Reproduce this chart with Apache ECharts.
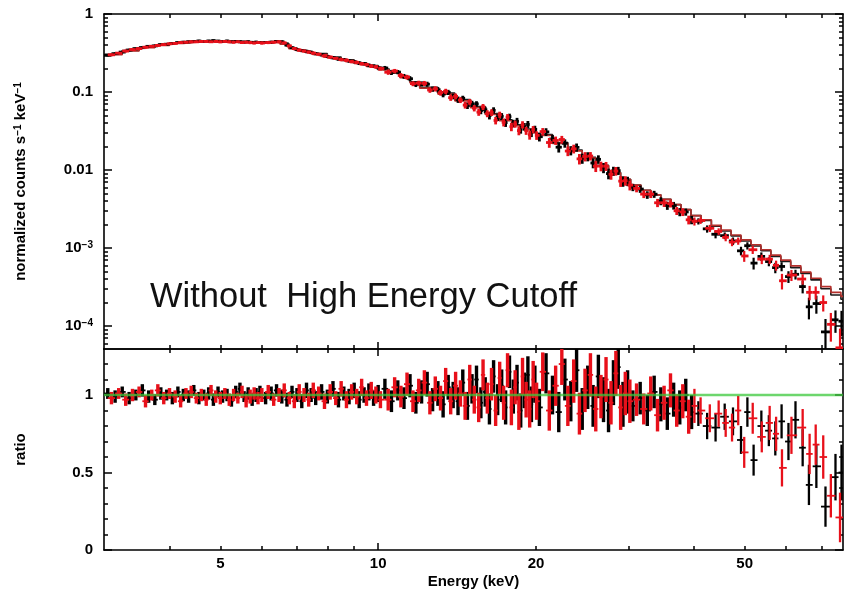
<!DOCTYPE html>
<html>
<head>
<meta charset="utf-8">
<script src="https://cdn.jsdelivr.net/npm/echarts@6/dist/echarts.min.js"></script>
<style>html,body{margin:0;padding:0;background:#fff}#c{width:844px;height:595px}</style>
</head>
<body>
<div id="c"></div>
<script>
// ---------------- DATA ----------------
// Black detector: bin centres (keV), unfolded counts, ratio, ratio error
const energyB = [
3.05,3.15,3.25,3.35,3.45,3.55,3.65,3.75,3.85,3.95,
4.05,4.15,4.25,4.35,4.45,4.55,4.65,4.75,4.85,4.95,
5.05,5.15,5.25,5.35,5.45,5.55,5.65,5.75,5.85,5.95,
6.10,6.25,6.40,6.55,6.70,6.85,7.00,7.15,7.30,7.45,7.60,7.80,8.00,8.20,8.40,8.60,8.80,9.00,9.20,9.40,9.60,9.80,10.00,
10.3,10.6,10.9,11.2,11.5,11.8,12.1,12.4,12.7,13.0,13.3,13.6,13.9,14.2,14.5,14.8,15.1,15.4,15.7,16.0,16.3,16.6,16.9,17.2,17.5,17.8,18.1,18.4,18.7,19.0,19.3,19.6,19.9,
20.3,20.9,21.5,22.1,22.7,23.3,23.9,24.5,25.1,25.7,26.3,26.9,27.5,28.1,28.7,29.3,29.9,
30.6,31.6,32.6,33.6,34.6,35.6,36.6,37.6,38.6,39.6,
40.8,42.4,44.0,45.8,47.5,49.2,50.6,52.0,53.8,55.6,57.2,58.8,60.6,62.5,64.5,66.3,68.5,71.3,74.5,76.5
];
const fluxB = [
0.295,0.31,0.325,0.345,0.36,0.37,0.385,0.39,0.405,0.41,
0.42,0.43,0.435,0.44,0.445,0.45,0.445,0.45,0.455,0.45,
0.445,0.45,0.44,0.445,0.44,0.435,0.44,0.43,0.435,0.43,
0.43,0.435,0.445,0.44,0.40,0.37,0.35,0.34,0.33,0.32,0.31,0.30,0.285,0.275,0.265,0.26,0.25,0.245,0.235,0.23,0.22,0.215,0.205,
0.203,0.178,0.180,0.159,0.148,0.125,0.1275,0.126,0.109,0.107,0.094,0.099,0.088,0.080,0.083,0.067,0.0707,0.0704,0.058,0.0592,0.050,0.0582,0.0475,0.0488,0.0405,0.0483,0.0396,0.0421,0.0333,0.036,0.0384,0.0301,0.0332,
0.0267,0.0308,0.025,0.0196,0.022,0.0178,0.0195,0.0141,0.0149,0.0123,0.0137,0.0107,0.009,0.0097,0.0098,0.0072,0.0072,
0.0060,0.0057,0.0048,0.0049,0.0040,0.0035,0.0035,0.0029,0.0029,0.0023,
0.0022,0.00176,0.0015,0.00144,0.00123,0.00092,0.00107,0.00064,0.00078,0.00067,0.00056,0.00058,0.00043,0.00046,0.00032,0.000176,0.000194,0.000084,0.00012,0.000115
];
const ratioB = [
1.01,0.99,1.02,0.98,1.00,1.03,0.99,0.97,1.01,1.00,
0.98,1.02,1.00,0.99,1.03,0.98,1.00,1.01,0.97,1.02,
0.99,1.00,0.96,1.02,1.04,0.99,1.01,0.97,1.00,1.02,
0.98,1.01,1.03,0.99,0.97,1.02,1.00,0.96,1.03,1.00,0.98,1.02,0.99,1.04,0.97,1.01,0.99,1.03,0.97,1.00,1.02,0.98,1.01,
1.04,0.96,1.03,0.98,1.06,0.95,1.02,1.07,0.97,1.01,0.94,1.05,1.00,0.96,1.08,0.93,1.04,1.10,0.95,1.02,0.91,1.12,0.97,1.06,0.92,1.15,0.99,1.08,0.90,1.03,1.13,0.94,1.07,
0.92,1.14,1.00,0.89,1.10,0.96,1.16,0.91,1.05,0.93,1.12,0.97,0.90,1.08,1.18,0.94,1.02,
0.93,0.98,0.90,1.02,0.94,0.88,0.97,0.92,1.00,0.89,
0.88,0.80,0.79,0.86,0.83,0.71,0.89,0.58,0.80,0.77,0.72,0.83,0.70,0.84,0.66,0.42,0.54,0.28,0.47,0.50
];
const ratioErrB = [
0.035,0.04,0.035,0.04,0.035,0.04,0.04,0.035,0.04,0.035,
0.04,0.035,0.04,0.04,0.035,0.04,0.035,0.04,0.04,0.035,
0.04,0.04,0.035,0.04,0.04,0.035,0.04,0.04,0.045,0.04,
0.04,0.045,0.04,0.045,0.045,0.04,0.045,0.045,0.05,0.045,0.045,0.05,0.045,0.05,0.05,0.045,0.05,0.05,0.055,0.05,0.055,0.05,0.055,
0.065,0.07,0.065,0.07,0.075,0.07,0.075,0.08,0.075,0.08,0.085,0.08,0.085,0.09,0.085,0.09,0.095,0.09,0.1,0.095,0.1,0.105,0.1,0.105,0.11,0.105,0.11,0.115,0.11,0.115,0.12,0.115,0.12,
0.12,0.13,0.125,0.13,0.135,0.13,0.14,0.135,0.14,0.135,0.14,0.145,0.14,0.145,0.14,0.145,0.14,
0.1,0.105,0.1,0.105,0.11,0.105,0.11,0.11,0.105,0.11,
0.08,0.085,0.09,0.085,0.09,0.09,0.095,0.1,0.1,0.1,0.11,0.11,0.12,0.12,0.12,0.13,0.14,0.13,0.15,0.18
];

// Red detector
const energyR = [
3.10,3.20,3.30,3.40,3.50,3.60,3.70,3.80,3.90,4.00,
4.10,4.20,4.30,4.40,4.50,4.60,4.70,4.80,4.90,5.00,
5.10,5.20,5.30,5.40,5.50,5.60,5.70,5.80,5.90,6.00,
6.17,6.32,6.47,6.62,6.77,6.92,7.07,7.22,7.37,7.52,7.70,7.90,8.10,8.30,8.50,8.70,8.90,9.10,9.30,9.50,9.70,9.90,10.10,
10.45,10.75,11.05,11.35,11.65,11.95,12.25,12.55,12.85,13.15,13.45,13.75,14.05,14.35,14.65,14.95,15.25,15.55,15.85,16.15,16.45,16.75,17.05,17.35,17.65,17.95,18.25,18.55,18.85,19.15,19.45,19.75,20.05,
20.6,21.2,21.8,22.4,23.0,23.6,24.2,24.8,25.4,26.0,26.6,27.2,27.8,28.4,29.0,29.6,30.2,
31.1,32.1,33.1,34.1,35.1,36.1,37.1,38.1,39.1,40.1,
41.2,42.9,44.6,46.0,47.3,48.6,49.9,51.8,53.9,55.8,57.4,58.9,61.4,64.5,66.5,68.3,70.6,73.0,76.0
];
const fluxR = [
0.30,0.315,0.335,0.35,0.36,0.375,0.385,0.395,0.405,0.415,
0.42,0.43,0.435,0.44,0.44,0.445,0.445,0.44,0.445,0.44,
0.445,0.44,0.435,0.44,0.43,0.435,0.43,0.425,0.43,0.425,
0.43,0.435,0.44,0.425,0.39,0.36,0.345,0.335,0.325,0.315,0.305,0.29,0.28,0.27,0.26,0.255,0.245,0.24,0.23,0.225,0.215,0.21,0.20,
0.179,0.186,0.163,0.155,0.128,0.130,0.129,0.106,0.110,0.098,0.102,0.0845,0.088,0.0788,0.0679,0.0748,0.0621,0.0552,0.0644,0.0529,0.0546,0.0432,0.0511,0.0409,0.0476,0.0359,0.0389,0.0320,0.0381,0.0320,0.0282,0.0330,0.0278,
0.0311,0.0225,0.0239,0.0246,0.0175,0.0187,0.0139,0.0149,0.0151,0.0112,0.0112,0.0112,0.0088,0.0097,0.0072,0.0073,0.0064,
0.0058,0.0049,0.0049,0.0038,0.0038,0.0037,0.0030,0.0029,0.0023,0.0022,
0.00225,0.00179,0.00163,0.00137,0.00119,0.00123,0.00079,0.00095,0.00072,0.00072,0.0006,0.00038,0.00045,0.0004,0.00027,0.00027,0.0002,0.000105,0.0000525
];
const ratioR = [
0.98,1.01,0.97,1.00,1.02,0.96,1.00,1.03,0.98,1.01,
0.99,0.96,1.01,1.02,0.98,1.00,0.97,1.03,0.99,0.98,
1.01,0.97,1.00,0.98,1.02,0.96,0.99,1.01,0.98,1.00,
1.02,0.97,1.00,1.03,0.98,0.96,1.02,1.00,0.97,1.03,1.01,0.96,1.02,0.98,1.04,0.97,1.02,0.99,1.05,0.98,1.03,1.00,0.97,
0.97,1.05,0.99,1.07,0.96,1.03,1.08,0.95,1.04,0.98,1.09,0.96,1.06,1.01,0.93,1.10,0.97,0.92,1.13,0.98,1.07,0.90,1.11,0.95,1.16,0.92,1.05,0.89,1.12,0.97,0.91,1.10,0.96,
1.15,0.90,1.06,1.20,0.93,1.09,0.88,1.03,1.13,0.91,0.99,1.10,0.95,1.14,0.92,1.01,0.96,
0.97,0.91,1.01,0.87,0.95,1.03,0.90,0.96,0.86,0.93,
0.90,0.85,0.88,0.82,0.79,0.90,0.63,0.85,0.73,0.82,0.75,0.53,0.74,0.79,0.62,0.68,0.60,0.35,0.21
];
const ratioErrR = [
0.04,0.035,0.04,0.04,0.035,0.04,0.035,0.04,0.04,0.035,
0.04,0.04,0.035,0.04,0.035,0.04,0.04,0.035,0.04,0.04,
0.035,0.04,0.04,0.035,0.04,0.04,0.045,0.04,0.04,0.045,
0.045,0.04,0.045,0.045,0.04,0.045,0.05,0.045,0.045,0.05,0.045,0.05,0.05,0.045,0.05,0.055,0.05,0.05,0.055,0.05,0.055,0.055,0.055,
0.07,0.065,0.07,0.075,0.07,0.075,0.08,0.075,0.08,0.08,0.085,0.085,0.09,0.085,0.09,0.095,0.09,0.095,0.1,0.1,0.105,0.1,0.105,0.11,0.11,0.115,0.11,0.115,0.12,0.115,0.12,0.12,0.12,
0.125,0.13,0.13,0.135,0.13,0.14,0.135,0.14,0.14,0.145,0.14,0.145,0.14,0.145,0.145,0.14,0.14,
0.105,0.1,0.11,0.105,0.11,0.11,0.105,0.11,0.11,0.11,
0.085,0.09,0.085,0.09,0.09,0.095,0.1,0.1,0.1,0.11,0.11,0.12,0.12,0.12,0.13,0.13,0.14,0.14,0.16
];

// Model (folded) histograms: bin edges (keV) and values per bin
const modelEdges = [3,3.25,3.5,3.75,4,4.25,4.5,4.75,5,5.5,6,6.25,6.5,6.75,7,7.25,7.5,8,8.5,9,9.5,10,10.5,11,11.5,12,13,14,15,16,17,18,19,20,21.5,23,24.5,26,27.5,29,30.3,31.7,33.1,34.6,36.2,37.8,39.5,41.3,43.2,45.1,47.1,49.2,51.4,53.7,56.1,58.6,61.2,64.0,66.9,69.9,73.0,76.3,77];
const modelB = [
0.305,0.34,0.375,0.40,0.425,0.44,0.448,0.45,0.447,0.437,
0.432,0.44,0.42,0.37,0.345,0.33,0.31,0.28,0.258,0.237,
0.218,0.197,0.18,0.158,0.135,0.115,0.097,0.080,0.065,0.053,
0.044,0.038,0.0335,0.0285,0.0225,0.018,0.0145,0.0115,0.0093,0.0076,
0.0064,0.0055,0.0048,0.0042,0.0036,0.0031,0.0026,0.00225,0.0019,0.00165,
0.00143,0.00123,0.00106,0.00092,0.00078,0.00067,0.00056,0.00047,0.00039,0.0003,
0.00025,0.00022];
const modelR = [
0.30,0.335,0.37,0.395,0.42,0.435,0.443,0.444,0.442,0.432,
0.428,0.436,0.41,0.36,0.338,0.322,0.303,0.275,0.253,0.232,
0.213,0.192,0.175,0.153,0.131,0.112,0.094,0.077,0.063,0.0515,
0.0428,0.037,0.0325,0.0277,0.0219,0.0176,0.0142,0.0113,0.0092,0.0076,
0.0064,0.0055,0.0048,0.0042,0.0036,0.0031,0.0026,0.0023,0.00195,0.0017,
0.00147,0.00127,0.0011,0.00095,0.00081,0.0007,0.00059,0.00049,0.00041,0.00032,
0.00027,0.00024];
const unityRatio = [[3, 1], [77, 1]];

// Axis ticks / labels
const xMinorTicks = [4,5,6,7,8,9,20,30,40,50,60,70];
const xMajorTicks = [10];
const xLabelValues = [5,10,20,50];
const yTopMajor = [1e-4,1e-3,1e-2,1e-1,1];
const yTopMinor = [6e-5,7e-5,8e-5,9e-5,2e-4,3e-4,4e-4,5e-4,6e-4,7e-4,8e-4,9e-4,2e-3,3e-3,4e-3,5e-3,6e-3,7e-3,8e-3,9e-3,0.02,0.03,0.04,0.05,0.06,0.07,0.08,0.09,0.2,0.3,0.4,0.5,0.6,0.7,0.8,0.9];
const ratioMajor = [0,0.5,1];
const ratioMinor = [0.1,0.2,0.3,0.4,0.6,0.7,0.8,0.9,1.1,1.2];

// Axis ranges
const E_MIN = 3, E_MAX = 77;
const Y_MIN = 5.07e-5, Y_MAX = 1;
const R_MIN = 0, R_MAX = 1.297;

// ---------------- BUILD ----------------
const FONT = '"Liberation Sans", Arial, Helvetica, sans-serif';
const BLACK = '#000000', RED = '#e8101a', MODEL_RED = '#b3302c', GREEN = '#3cc83c';
const DENSE_BELOW_KEV = 40;   // narrow, crowded bins drawn with heavier strokes

function binBounds(E) {
  const n = E.length, lo = [], hi = [];
  for (let i = 0; i < n; i++) {
    lo.push(i > 0 ? (E[i - 1] + E[i]) / 2 : E[i] - (E[i + 1] - E[i]) / 2);
    hi.push(i < n - 1 ? (E[i] + E[i + 1]) / 2 : E[i] + (E[i] - E[i - 1]) / 2);
  }
  return [lo, hi];
}
function fluxItems(E, F, R, RE) {
  const [lo, hi] = binBounds(E);
  return E.map((e, i) => {
    const rel = RE[i] / R[i];
    return [e, lo[i], hi[i], F[i], Math.max(F[i] * (1 - rel), 1e-7), F[i] * (1 + rel)];
  });
}
function ratioItems(E, R, RE) {
  const [lo, hi] = binBounds(E);
  return E.map((e, i) => [e, lo[i], hi[i], R[i], R[i] - RE[i], R[i] + RE[i]]);
}
function stepData(edges, vals) {
  const d = vals.map((v, i) => [edges[i], v]);
  d.push([edges[edges.length - 1], vals[vals.length - 1]]);
  return d;
}
function crossRenderer(color, wH, wVDense, wVWide) {
  return function (params, api) {
    const e = api.value(0);
    const y = api.value(3);
    const pL = api.coord([api.value(1), y]);
    const pR = api.coord([api.value(2), y]);
    const pT = api.coord([e, api.value(5)]);
    const pB = api.coord([e, api.value(4)]);
    const wV = e < DENSE_BELOW_KEV ? wVDense : wVWide;
    return {
      type: 'group',
      children: [
        { type: 'line', shape: { x1: pL[0], y1: pL[1], x2: pR[0], y2: pR[1] }, style: { stroke: color, lineWidth: wH } },
        { type: 'line', shape: { x1: pT[0], y1: pT[1], x2: pB[0], y2: pB[1] }, style: { stroke: color, lineWidth: wV } }
      ]
    };
  };
}

const tickLine = { color: '#000', width: 1.5 };
const frameLine = { show: true, onZero: false, lineStyle: { color: '#000', width: 1.6 } };
const noLine = { show: false, onZero: false };
const labelBase = { color: '#000', fontSize: 15, fontWeight: 'bold', fontFamily: FONT };

function axisCommon(gridIndex, position, ticks, len, showLine) {
  return {
    gridIndex, position,
    axisLine: showLine ? frameLine : noLine,
    axisTick: { show: true, inside: true, length: len, customValues: ticks, lineStyle: tickLine },
    axisLabel: { show: false },
    splitLine: { show: false },
    minorTick: { show: false },
    minorSplitLine: { show: false },
    axisPointer: { show: false }
  };
}
function xAx(gridIndex, position, ticks, len, showLine, extra) {
  return Object.assign(axisCommon(gridIndex, position, ticks, len, showLine),
    { type: 'log', logBase: 10, min: E_MIN, max: E_MAX }, extra || {});
}
function yLog(gridIndex, position, ticks, len, showLine, extra) {
  return Object.assign(axisCommon(gridIndex, position, ticks, len, showLine),
    { type: 'log', logBase: 10, min: Y_MIN, max: Y_MAX }, extra || {});
}
function yVal(gridIndex, position, ticks, len, showLine, extra) {
  return Object.assign(axisCommon(gridIndex, position, ticks, len, showLine),
    { type: 'value', min: R_MIN, max: R_MAX }, extra || {});
}

const xAxes = [
  xAx(0, 'bottom', xMinorTicks, 4, true),
  xAx(0, 'top', xMinorTicks, 4, true),
  xAx(0, 'bottom', xMajorTicks, 7, false),
  xAx(0, 'top', xMajorTicks, 7, false),
  xAx(1, 'bottom', xMinorTicks, 4, true, {
    axisLabel: Object.assign({ show: true, customValues: xLabelValues, margin: 6,
      formatter: v => String(Math.round(v)) }, labelBase),
    name: 'Energy (keV)', nameLocation: 'middle', nameGap: 24,
    nameTextStyle: { color: '#000', fontSize: 15, fontWeight: 'bold', fontFamily: FONT }
  }),
  xAx(1, 'top', xMinorTicks, 4, true),
  xAx(1, 'bottom', xMajorTicks, 7, false),
  xAx(1, 'top', xMajorTicks, 7, false)
];

function topLabel(v) {
  const e = Math.round(Math.log10(v));
  if (e === 0) return '1';
  if (e === -1) return '0.1';
  if (e === -2) return '0.01';
  return '{b|10}{s|\u2212' + (-e) + '}';
}

const yAxes = [
  yLog(0, 'left', yTopMajor, 8, true, {
    axisLabel: Object.assign({ show: true, customValues: yTopMajor, margin: 11, formatter: topLabel,
      rich: {
        b: { fontSize: 15, fontWeight: 'bold', fontFamily: FONT, color: '#000' },
        s: { fontSize: 10, fontWeight: 'bold', fontFamily: FONT, color: '#000', verticalAlign: 'top' }
      } }, labelBase),
    name: '{n|normalized counts s}{s|\u22121}{n| keV}{s|\u22121}',
    nameLocation: 'middle', nameGap: 76,
    nameTextStyle: {
      rich: {
        n: { fontSize: 15, fontWeight: 'bold', fontFamily: FONT, color: '#000' },
        s: { fontSize: 10, fontWeight: 'bold', fontFamily: FONT, color: '#000', verticalAlign: 'top' }
      }
    }
  }),
  yLog(0, 'left', yTopMinor, 4, false),
  yLog(0, 'right', yTopMajor, 8, true),
  yLog(0, 'right', yTopMinor, 4, false),
  yVal(1, 'left', ratioMajor, 8, true, {
    axisLabel: Object.assign({ show: true, customValues: ratioMajor, margin: 11,
      formatter: v => (v === 0 ? '0' : (v === 0.5 ? '0.5' : '1')) }, labelBase),
    name: 'ratio', nameLocation: 'middle', nameGap: 76,
    nameTextStyle: { color: '#000', fontSize: 15, fontWeight: 'bold', fontFamily: FONT }
  }),
  yVal(1, 'left', ratioMinor, 4, false),
  yVal(1, 'right', ratioMajor, 8, true),
  yVal(1, 'right', ratioMinor, 4, false)
];

const customBase = {
  type: 'custom', clip: true, silent: true,
  encode: { x: [0, 1, 2], y: [3, 4, 5] },
  dimensions: ['e', 'lo', 'hi', 'y', 'ylo', 'yhi']
};

const option = {
  animation: false,
  backgroundColor: '#ffffff',
  grid: [
    { left: 104, right: 1, top: 14, height: 335, outerBoundsMode: 'none', containLabel: false },
    { left: 104, right: 1, top: 349, height: 201, outerBoundsMode: 'none', containLabel: false }
  ],
  xAxis: xAxes,
  yAxis: yAxes,
  series: [
    { name: 'model black', type: 'line', xAxisIndex: 0, yAxisIndex: 0, step: 'end', symbol: 'none', silent: true,
      data: stepData(modelEdges, modelB), lineStyle: { color: '#1a1a1a', width: 1.6 }, z: 2 },
    { name: 'model red', type: 'line', xAxisIndex: 0, yAxisIndex: 0, step: 'end', symbol: 'none', silent: true,
      data: stepData(modelEdges, modelR), lineStyle: { color: MODEL_RED, width: 1.6 }, z: 2 },
    Object.assign({}, customBase, { name: 'data black', xAxisIndex: 0, yAxisIndex: 0, z: 3,
      renderItem: crossRenderer(BLACK, 2.8, 2.8, 2.2), data: fluxItems(energyB, fluxB, ratioB, ratioErrB) }),
    Object.assign({}, customBase, { name: 'data red', xAxisIndex: 0, yAxisIndex: 0, z: 4,
      renderItem: crossRenderer(RED, 2.8, 2.8, 2.2), data: fluxItems(energyR, fluxR, ratioR, ratioErrR) }),
    Object.assign({}, customBase, { name: 'ratio black', xAxisIndex: 4, yAxisIndex: 4, z: 3,
      renderItem: crossRenderer(BLACK, 1.8, 3.4, 2.3), data: ratioItems(energyB, ratioB, ratioErrB) }),
    Object.assign({}, customBase, { name: 'ratio red', xAxisIndex: 4, yAxisIndex: 4, z: 4,
      renderItem: crossRenderer(RED, 1.8, 3.4, 2.3), data: ratioItems(energyR, ratioR, ratioErrR) }),
    { name: 'unity', type: 'line', xAxisIndex: 4, yAxisIndex: 4, symbol: 'none', silent: true,
      data: unityRatio, lineStyle: { color: GREEN, width: 2.5, opacity: 0.75 }, z: 5 }
  ],
  graphic: [
    { type: 'text', left: 150, top: 280, z: 100, silent: true,
      style: { text: 'Without  High Energy Cutoff', fontSize: 34.5, fontFamily: FONT, fill: '#111' } }
  ]
};

const chart = echarts.init(document.getElementById('c'), null, { renderer: 'canvas' });
chart.setOption(option);
</script>
</body>
</html>
